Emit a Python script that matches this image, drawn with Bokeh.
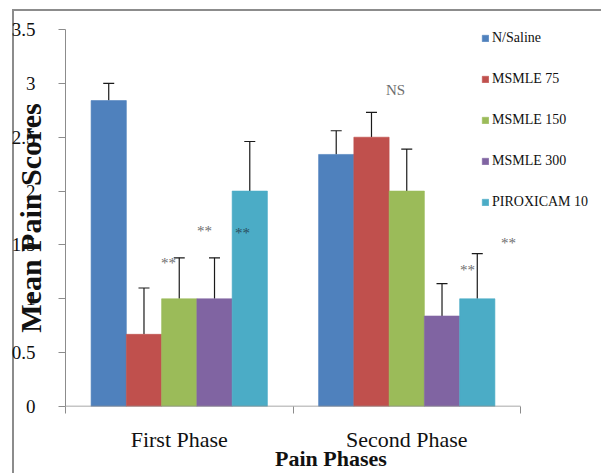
import numpy as np
from bokeh.plotting import figure
from bokeh.models import (ColumnDataSource, Range1d, FixedTicker, Whisker, TeeHead,
                          Legend, LegendItem)
from bokeh.core.properties import value
from bokeh.embed import file_html
from bokeh.resources import INLINE

# ---- data ----
phases = ["First Phase", "Second Phase"]
series = ["N/Saline", "MSMLE 75", "MSMLE 150", "MSMLE 300", "PIROXICAM 10"]
colors = ["#4F81BD", "#C0504D", "#9BBB59", "#8064A2", "#4BACC6"]
means_first = [2.84, 0.67, 1.00, 1.00, 2.00]
means_second = [2.34, 2.50, 2.00, 0.84, 1.00]
err_first = [0.16, 0.43, 0.38, 0.38, 0.46]
err_second = [0.22, 0.23, 0.39, 0.30, 0.42]
y_ticks = [0, 0.5, 1, 1.5, 2, 2.5, 3, 3.5]
y_tick_labels = ["0", "0.5", "1", "1.5", "2", "2.5", "3", "3.5"]
ann_text = ["**", "**", "**", "NS", "**", "**"]
ann_phase = [0, 0, 0, 1, 1, 1]
ann_offset = [-0.047, 0.111, 0.278, -0.049, 0.267, 0.447]
ann_y = [1.33, 1.625, 1.615, 2.94, 1.27, 1.52]
ann_color = ["#6e6e6e", "#6e6e6e", "#2a4f5e", "#6e6e6e", "#6e6e6e", "#6e6e6e"]

W, H = 601, 473
frame_left, frame_right = 65, 596
px_per_phase = 227.5
x_end = (frame_right - frame_left) / px_per_phase

p = figure(width=W, height=H, output_backend="svg", toolbar_location=None,
           x_range=Range1d(0, x_end), y_range=Range1d(0, 3.5),
           min_border_left=frame_left, min_border_right=W - frame_right,
           min_border_top=29, min_border_bottom=66)
p.outline_line_color = None
p.grid.visible = False
p.background_fill_color = "white"
p.border_fill_color = None
p.styles = {
    "background": ("linear-gradient(#8c8c8c,#8c8c8c) 12px 9px / 589px 2px no-repeat, "
                   "linear-gradient(#8c8c8c,#8c8c8c) 12px 9px / 2px 464px no-repeat, white")
}

bar_w = 0.155
offsets = [(-2 + i) * bar_w for i in range(5)]
items = []
for i, name in enumerate(series):
    xs = [0.5 + offsets[i], 1.5 + offsets[i]]
    tops = [means_first[i], means_second[i]]
    errs = [err_first[i], err_second[i]]
    src = ColumnDataSource(dict(x=xs, top=tops, upper=[t + e for t, e in zip(tops, errs)]))
    r = p.vbar(x="x", top="top", width=bar_w, bottom=0, source=src,
               fill_color=colors[i], line_color=colors[i], line_alpha=0.6, line_width=1)
    wk = Whisker(source=src, base="x", upper="upper", lower="top",
                 line_color="#1a1a1a", line_width=1.2,
                 upper_head=TeeHead(size=11, line_color="#1a1a1a", line_width=1.2),
                 lower_head=None)
    p.add_layout(wk)
    items.append(LegendItem(label=name, renderers=[r]))

legend = Legend(items=items, location=(416, 196), orientation="vertical",
                glyph_width=8, glyph_height=8, label_standoff=3, spacing=25,
                padding=0, margin=0, border_line_color=None, background_fill_alpha=0,
                label_text_font="Liberation Serif", label_text_font_size="14px",
                label_text_color="#111111")
p.add_layout(legend)

# x axis line only across the two phases
p.segment(x0=[0], x1=[len(phases)], y0=[0], y1=[0], line_color="#8c8c8c", line_width=1.5)

# annotations
p.text(x=[ph + 0.5 + off for ph, off in zip(ann_phase, ann_offset)], y=ann_y, text=ann_text,
       text_color=ann_color, text_font=value("Liberation Serif"), text_font_size="15px",
       text_align="center", text_baseline="middle")

# axes
yax = p.yaxis[0]
yax.ticker = FixedTicker(ticks=y_ticks)
yax.major_label_overrides = {t: l for t, l in zip(y_ticks, y_tick_labels)}
yax.axis_line_color = "#8c8c8c"
yax.major_tick_line_color = "#8c8c8c"
yax.major_tick_out = 7
yax.major_tick_in = 0
yax.minor_tick_line_color = None
yax.major_label_standoff = 23
yax.major_label_text_font = "Liberation Sans Narrow"
yax.major_label_text_font_size = "19px"
yax.major_label_text_color = "#111111"
yax.axis_label = "Mean Pain Scores"
yax.axis_label_text_font = "Liberation Serif"
yax.axis_label_text_font_style = "bold"
yax.axis_label_text_font_size = "30px"
yax.axis_label_text_color = "#111111"
yax.axis_label_standoff = -38

xax = p.xaxis[0]
xax.ticker = FixedTicker(ticks=[0.5, 1.5], minor_ticks=[0, 1, 2])
xax.major_label_overrides = {0.5: phases[0], 1.5: phases[1]}
xax.axis_line_color = None
xax.major_tick_line_color = None
xax.major_tick_out = 0
xax.major_tick_in = 0
xax.minor_tick_line_color = "#8c8c8c"
xax.minor_tick_out = 7
xax.minor_tick_in = 0
xax.major_label_standoff = 13
xax.major_label_text_font = "Liberation Serif"
xax.major_label_text_font_size = "22px"
xax.major_label_text_color = "#111111"
xax.axis_label = "Pain Phases"
xax.axis_label_text_font = "Liberation Serif"
xax.axis_label_text_font_style = "bold"
xax.axis_label_text_font_size = "22px"
xax.axis_label_standoff = -9
xax.axis_label_text_color = "#111111"

open("out.html", "w").write(file_html(p, INLINE))
